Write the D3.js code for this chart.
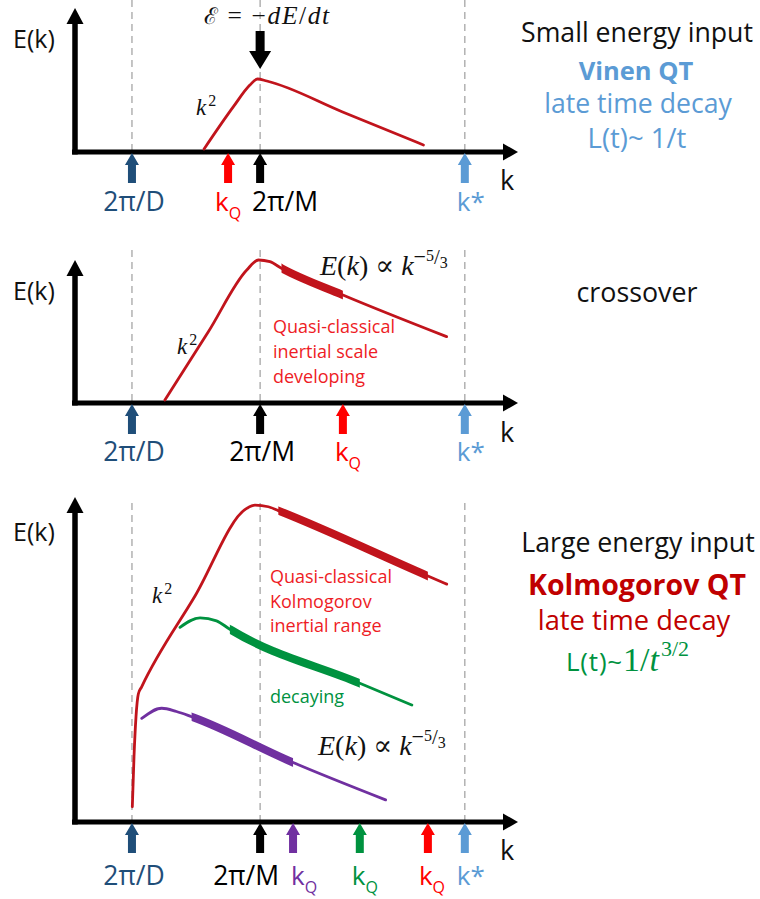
<!DOCTYPE html>
<html>
<head>
<meta charset="utf-8">
<script src="https://cdn.jsdelivr.net/npm/d3@7"></script>
<style>
  body { margin: 0; background: #fff; }
  svg { display: block; }
</style>
</head>
<body>
<script>
// Characteristic wavenumbers marked on every k axis
const scaleLabels = ["2π/D", "2π/M", "k*"];
const scaleK = [1.28, 4.16, 8.76];

// Quantum cutoff k_Q in each regime
const kQSmall = [3.44];
const kQCross = [6.02];
const kQLarge = [4.90, 6.40, 7.93];   // purple, green, red spectra

// Energy spectra E(k), as [k, E] with E normalised to the panel height
const specSmall = [[2.90, 0.021], [3.56, 0.315], [3.93, 0.465], [4.10, 0.507], [4.31, 0.493], [6.0, 0.280], [7.83, 0.049]];
const specCross = [[2.02, 0.021], [3.0, 0.50], [3.86, 0.93], [4.12, 1.0], [4.38, 0.988], [4.64, 0.942], [6.02, 0.755], [8.35, 0.464]];
const specLargeRed = [[1.288, 0.047], [1.326, 0.201], [1.371, 0.324], [1.423, 0.394], [1.498, 0.416], [2.7, 0.696], [3.858, 0.965], [4.045, 0.975], [4.345, 0.970], [4.569, 0.958], [7.93, 0.757], [8.353, 0.732]];
const specLargeGreen = [[2.36, 0.599], [2.81, 0.628], [3.18, 0.619], [3.48, 0.593], [6.40, 0.427], [7.57, 0.360]];
const specLargePurple = [[1.50, 0.319], [1.95, 0.350], [2.28, 0.340], [2.62, 0.324], [4.90, 0.183], [6.98, 0.068]];

// Start of the k^-5/3 inertial range of each spectrum (it ends at that spectrum's k_Q)
const inertialStartCross = [4.64];
const inertialStartLarge = [2.62, 3.48, 4.569];   // purple, green, red

// ---------------------------------------------------------------------------
const W = 760, H = 899;
const SANS = "'Open Sans', 'Noto Sans', sans-serif";
const SERIF = "'Liberation Serif', 'DejaVu Serif', serif";
const C = {
  red: "#c1141c", brightRed: "#ff0000", textRed: "#ee1c25", darkRed: "#c00000",
  green: "#00923f", purple: "#7030a0", navy: "#1f4e79", sky: "#5b9bd5",
  ink: "#111111", dash: "#a6a6a6"
};

const svg = d3.select("body").append("svg").attr("width", W).attr("height", H);
const defs = svg.append("defs");

const x = d3.scaleLinear().domain([0, 10]).range([75, 520]);

const panels = [
  { axisY: 152, topY: 8,   dashTop: 0,   labelY: 211, eY: 48,  kY: 190 },
  { axisY: 403, topY: 260, dashTop: 250, labelY: 461, eY: 300, kY: 442 },
  { axisY: 822, topY: 497, dashTop: 503, labelY: 885, eY: 541, kY: 860 }
];
panels.forEach(p => { p.y = d3.scaleLinear().domain([0, 1]).range([p.axisY, p.topY]); });

function upArrow(g, cx, tipY, color) {
  const p = d3.path();
  p.moveTo(cx, tipY);
  p.lineTo(cx + 7, tipY + 12);
  p.lineTo(cx + 4, tipY + 12);
  p.lineTo(cx + 4, tipY + 30);
  p.lineTo(cx - 4, tipY + 30);
  p.lineTo(cx - 4, tipY + 12);
  p.lineTo(cx - 7, tipY + 12);
  p.closePath();
  g.append("path").attr("d", p.toString()).attr("fill", color);
}

function axes(g, p) {
  // dashed guide lines at 2π/D, 2π/M and k*
  g.selectAll("line.guide").data(scaleK).join("line")
    .attr("class", "guide")
    .attr("x1", d => x(d)).attr("x2", d => x(d))
    .attr("y1", p.dashTop).attr("y2", p.axisY)
    .attr("stroke", C.dash).attr("stroke-width", 1.3).attr("stroke-dasharray", "7,5");
  // y axis with arrowhead
  g.append("line").attr("x1", x(0)).attr("x2", x(0)).attr("y1", p.axisY + 2.5).attr("y2", p.topY + 12)
    .attr("stroke", "#000").attr("stroke-width", 5.5);
  g.append("path").attr("d", `M${x(0)},${p.topY} L${x(0) + 8.5},${p.topY + 16} L${x(0) - 8.5},${p.topY + 16} Z`);
  // x axis with arrowhead
  g.append("line").attr("x1", x(0) - 3).attr("x2", x(10) - 10).attr("y1", p.axisY).attr("y2", p.axisY)
    .attr("stroke", "#000").attr("stroke-width", 5);
  g.append("path").attr("d", `M${x(10) - 2},${p.axisY} L${x(10) - 17},${p.axisY - 8.5} L${x(10) - 17},${p.axisY + 8.5} Z`);
  // axis titles
  g.append("text").attr("x", 13).attr("y", p.eY).attr("font-family", SANS).attr("font-size", 25)
    .attr("fill", C.ink).text("E(k)");
  g.append("text").attr("x", 500).attr("y", p.kY).attr("font-family", SANS).attr("font-size", 27)
    .attr("fill", C.ink).text("k");
}

const line = d3.line().x(d => x(d[0])).curve(d3.curveMonotoneX);

let clipId = 0;
function spectrum(g, p, data, color, inertialFrom, inertialTo) {
  const gen = line.y(d => p.y(d[1]));
  g.append("path").attr("d", gen(data)).attr("fill", "none")
    .attr("stroke", color).attr("stroke-width", 2.8).attr("stroke-linecap", "round");
  if (inertialFrom != null) {
    const id = "inertial" + (clipId++);
    defs.append("clipPath").attr("id", id).append("rect")
      .attr("x", x(inertialFrom)).attr("width", x(inertialTo) - x(inertialFrom))
      .attr("y", 0).attr("height", H);
    g.append("path").attr("d", gen(data)).attr("fill", "none")
      .attr("clip-path", `url(#${id})`)
      .attr("stroke", color).attr("stroke-width", 8);
  }
}

function kLabel(g, p, k, color, suffix, dx) {
  const t = g.append("text").attr("x", x(k) + dx).attr("y", p.labelY)
    .attr("font-family", SANS).attr("font-size", 26).attr("fill", color);
  t.append("tspan").text("k");
  if (suffix === "Q") {
    t.append("tspan").attr("dy", 8).attr("font-size", 16).text("Q");
  } else {
    t.append("tspan").text(suffix);
  }
}

function scaleMarks(g, p, mOffset, mAnchor) {
  const colors = [C.navy, "#000", C.sky];
  scaleK.forEach((k, i) => upArrow(g, x(k), p.axisY + 1, colors[i]));
  g.append("text").attr("x", x(scaleK[0]) + 2).attr("y", p.labelY).attr("text-anchor", "middle")
    .attr("font-family", SANS).attr("font-size", 26.5).attr("fill", C.navy).text(scaleLabels[0]);
  g.append("text").attr("x", x(scaleK[1]) + mOffset).attr("y", p.labelY).attr("text-anchor", mAnchor)
    .attr("font-family", SANS).attr("font-size", 26.5).attr("fill", "#000").text(scaleLabels[1]);
  kLabel(g, p, scaleK[2], C.sky, "*", -8);
}

function slopeLabel(g, px, py) {
  const t = g.append("text").attr("x", px).attr("y", py)
    .attr("font-family", SERIF).attr("font-size", 28).attr("fill", C.ink);
  t.append("tspan").attr("font-style", "italic").text("E");
  t.append("tspan").text("(");
  t.append("tspan").attr("font-style", "italic").text("k");
  t.append("tspan").text(") ∝ ");
  t.append("tspan").attr("font-style", "italic").text("k");
  t.append("tspan").attr("dy", -11).attr("font-size", 22).text("−");
  t.append("tspan").attr("dy", -3).attr("font-size", 16).text("5");
  t.append("tspan").attr("dy", 3).attr("font-size", 21).text("/");
  t.append("tspan").attr("dy", 4).attr("font-size", 16).text("3");
}

function k2Label(g, px, py) {
  const t = g.append("text").attr("x", px).attr("y", py)
    .attr("font-family", SERIF).attr("font-size", 23).attr("fill", C.ink);
  t.append("tspan").attr("font-style", "italic").text("k");
  t.append("tspan").attr("dy", -9).attr("dx", 2).attr("font-size", 16).text("2");
}

function centred(g, px, py, str, size, color, bold) {
  return g.append("text").attr("x", px).attr("y", py).attr("text-anchor", "middle")
    .attr("font-family", SANS).attr("font-size", size).attr("font-weight", bold ? "bold" : "normal")
    .attr("fill", color).text(str);
}

// ---------------------------------------------------------------- panel 1
{
  const p = panels[0];
  const g = svg.append("g");
  axes(g, p);
  spectrum(g, p, specSmall, C.red);
  scaleMarks(g, p, -8, "start");
  upArrow(g, x(kQSmall[0]), p.axisY + 1, C.brightRed);
  kLabel(g, p, kQSmall[0], C.brightRed, "Q", -13);
  k2Label(g, 196, 115);

  // energy injection at 2π/M
  const ax = x(scaleK[1]);
  g.append("path").attr("d",
    `M${ax - 4.5},31 L${ax + 4.5},31 L${ax + 4.5},51 L${ax + 11},51 L${ax},69 L${ax - 11},51 L${ax - 4.5},51 Z`)
    .attr("fill", "#000");
  const eq = g.append("text").attr("x", 204).attr("y", 24)
    .attr("font-family", SERIF).attr("font-size", 25.5).attr("letter-spacing", 1.6).attr("fill", C.ink);
  eq.append("tspan").attr("font-family", "'DejaVu Serif', serif").attr("font-size", 23).text("ℰ");
  eq.append("tspan").text(" = −");
  eq.append("tspan").attr("font-style", "italic").text("dE");
  eq.append("tspan").text("/");
  eq.append("tspan").attr("font-style", "italic").text("dt");

  centred(g, 637, 42, "Small energy input", 26.7, C.ink);
  centred(g, 636, 80, "Vinen QT", 25.5, C.sky, true);
  centred(g, 638, 112.5, "late time decay", 26.6, C.sky);
  centred(g, 637, 148, "L(t)~ 1/t", 27.5, C.sky);
}

// ---------------------------------------------------------------- panel 2
{
  const p = panels[1];
  const g = svg.append("g");
  axes(g, p);
  spectrum(g, p, specCross, C.red, inertialStartCross[0], kQCross[0]);
  scaleMarks(g, p, 2, "middle");
  upArrow(g, x(kQCross[0]), p.axisY + 1, C.brightRed);
  kLabel(g, p, kQCross[0], C.brightRed, "Q", -8);
  k2Label(g, 177, 354);
  slopeLabel(g, 320, 275);
  const t = g.append("text").attr("x", 273).attr("y", 333)
    .attr("font-family", SANS).attr("font-size", 18).attr("fill", C.textRed);
  ["Quasi-classical", "inertial scale", "developing"].forEach((r, i) =>
    t.append("tspan").attr("x", 273).attr("dy", i ? 25 : 0).text(r));
  centred(g, 637, 302, "crossover", 26.8, C.ink);
}

// ---------------------------------------------------------------- panel 3
{
  const p = panels[2];
  const g = svg.append("g");
  axes(g, p);
  const colors = [C.purple, C.green, C.red];
  const specs = [specLargePurple, specLargeGreen, specLargeRed];
  specs.forEach((s, i) => spectrum(g, p, s, colors[i], inertialStartLarge[i], kQLarge[i]));
  scaleMarks(g, p, -14, "middle");
  const arrowColors = [C.purple, C.green, C.brightRed];
  kQLarge.forEach((k, i) => {
    upArrow(g, x(k), p.axisY + 1, arrowColors[i]);
    kLabel(g, p, k, arrowColors[i], "Q", -2 - (i === 1 ? 6 : i === 2 ? 7 : 0));
  });
  k2Label(g, 152, 603);
  slopeLabel(g, 318, 755);
  const t = g.append("text").attr("x", 270).attr("y", 583)
    .attr("font-family", SANS).attr("font-size", 18).attr("fill", C.textRed);
  ["Quasi-classical", "Kolmogorov", "inertial range"].forEach((r, i) =>
    t.append("tspan").attr("x", 270).attr("dy", i ? 24.5 : 0).text(r));
  g.append("text").attr("x", 270).attr("y", 703)
    .attr("font-family", SANS).attr("font-size", 18).attr("fill", C.green).text("decaying");

  centred(g, 638, 552, "Large energy input", 26.7, C.ink);
  centred(g, 637, 595, "Kolmogorov QT", 28.5, C.darkRed, true);
  centred(g, 634, 630, "late time decay", 27.3, C.darkRed);
  const lt = g.append("text").attr("x", 566).attr("y", 671)
    .attr("font-family", SANS).attr("font-size", 26).attr("letter-spacing", 0.8).attr("fill", C.green);
  lt.append("tspan").text("L(t)~");
  lt.append("tspan").attr("font-family", SERIF).attr("letter-spacing", 0).attr("font-size", 34).text("1/");
  lt.append("tspan").attr("font-family", SERIF).attr("letter-spacing", 0).attr("font-style", "italic").attr("font-size", 34).text("t");
  lt.append("tspan").attr("font-family", SERIF).attr("letter-spacing", 0).attr("font-size", 22).attr("dy", -15).attr("dx", 2).text("3/2");
}
</script>
</body>
</html>
